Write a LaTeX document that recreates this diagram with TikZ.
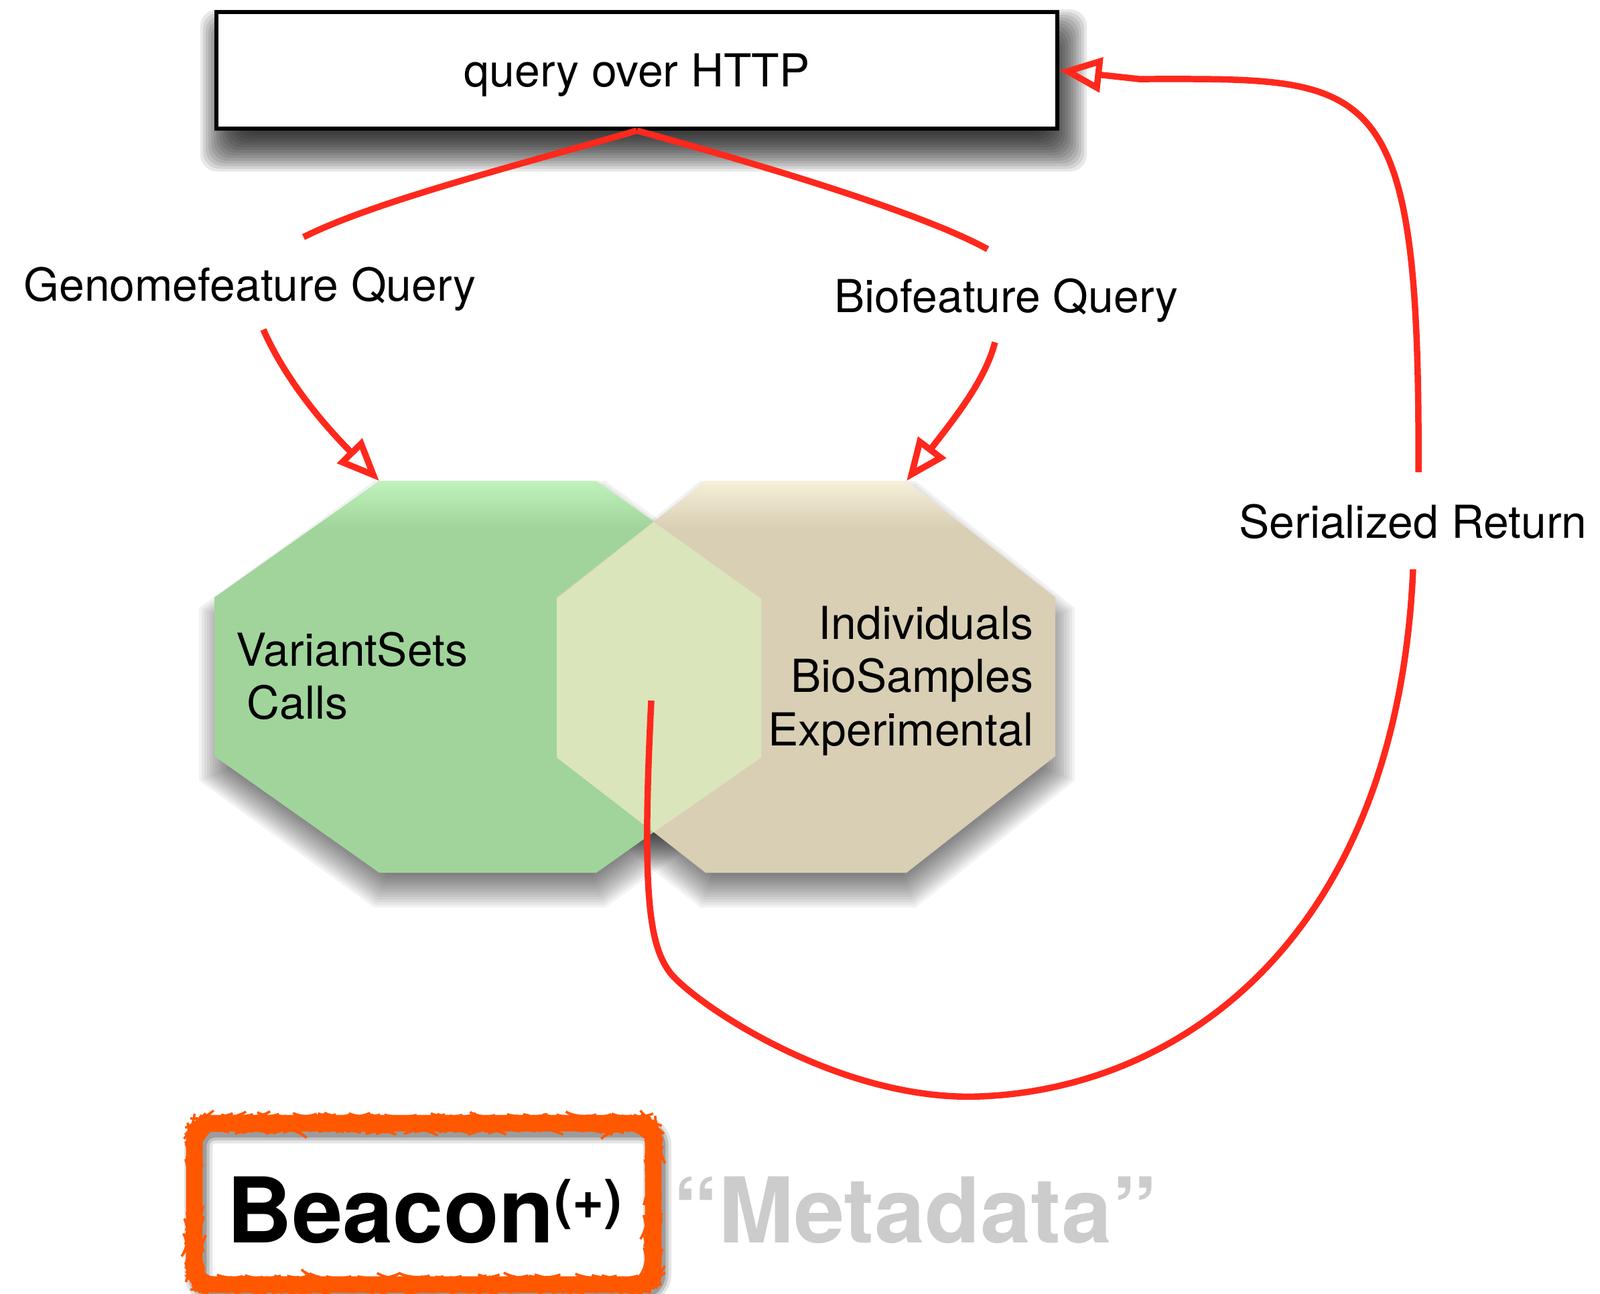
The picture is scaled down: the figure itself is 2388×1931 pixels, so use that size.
\documentclass[tikz,border=0pt]{standalone}
\usepackage{fontspec}
\setmainfont{TeX Gyre Heros}
\usetikzlibrary{arrows.meta,decorations.pathmorphing}
\definecolor{linered}{RGB}{255,40,28}
\definecolor{gmain}{RGB}{160,212,155}
\definecolor{glight}{RGB}{192,243,187}
\definecolor{bmain}{RGB}{216,207,181}
\definecolor{blight}{RGB}{246,240,217}
\definecolor{imain}{RGB}{219,229,188}
\definecolor{borange}{RGB}{255,88,0}
\definecolor{metagrey}{RGB}{204,204,204}
\pgfdeclareverticalshading{greengloss}{100bp}{color(0bp)=(gmain); color(69bp)=(gmain); color(75bp)=(glight); color(100bp)=(glight)}
\pgfdeclareverticalshading{beigegloss}{100bp}{color(0bp)=(bmain); color(69bp)=(bmain); color(75bp)=(blight); color(100bp)=(blight)}
\begin{document}
\begin{tikzpicture}[x=0.1mm,y=-0.1mm,
  lbl/.style={font=\fontsize{19.3}{23}\selectfont, inner sep=0pt},
  conn/.style={draw=linered, line width=2.7pt},
  arrowtip/.style={-{Triangle[open,length=18pt,width=14.5pt]}},
  topbox/.style={draw=black, line width=1.7pt, fill=white, minimum width=125.5mm, minimum height=17.4mm, inner sep=0pt, text depth=0pt, font=\fontsize{19.3}{23}\selectfont},
  bigtext/.style={anchor=base west, inner sep=0pt, font=\bfseries\fontsize{38.5}{40}\selectfont},
  roughedge/.style={borange, line width=1pt, rounded corners=2.5mm, decorate, decoration={random steps,segment length=1.5pt,amplitude=0.4pt}},
  greenoct/.style={insert path={(-162,-292.5) -- (162,-292.5) -- (408,-118.5) -- (408,118.5) -- (162,292.5) -- (-162,292.5) -- (-408,118.5) -- (-408,-118.5) -- cycle}},
  beigeoct/.style={insert path={(-150,-292.5) -- (150,-292.5) -- (372,-118.5) -- (372,118.5) -- (150,292.5) -- (-150,292.5) -- (-372,118.5) -- (-372,-118.5) -- cycle}}
]
\useasboundingbox (0,0) rectangle (2388,1931);

% soft shadow of the top box
\foreach \r in {-34,-30,...,26}
  \fill[black, opacity=0.09, rounded corners=2.5mm] ({333+\r},{48+\r}) rectangle ({1588-\r},{222-\r});
% top box
\node[topbox] (http) at (950.5,105) {query over HTTP};

% soft shadows of the octagons
\foreach \r in {-26,-22,...,34} {
  \fill[black, opacity=0.05, shift={(731,1036.5)}, xscale={(408-(\r))/408}, yscale={(292.5-(\r))/292.5}, greenoct];
  \fill[black, opacity=0.05, shift={(1206,1036.5)}, xscale={(372-(\r))/372}, yscale={(292.5-(\r))/292.5}, beigeoct];
}
% green octagon
\path[shading=greengloss, shift={(728,1010.5)}, greenoct];
% beige octagon
\path[shading=beigegloss, shift={(1203,1010.5)}, beigeoct];
% intersection
\fill[imain] (975.7,779.3) -- (831,894) -- (831,1131) -- (975.7,1242.7) -- (1136,1131) -- (1136,894) -- cycle;

% octagon vertices used by the arrows
\coordinate (g-tl) at (566,718);
\coordinate (b-tr) at (1353,718);

% octagon texts
\node[lbl, anchor=base west] (vs) at (352,994) {VariantSets};
\node[lbl, anchor=base west] (calls) at (368,1073) {Calls};
\node[lbl, anchor=base east] (ind) at (1543,954) {Individuals};
\node[lbl, anchor=base east] (bios) at (1543,1033) {BioSamples};
\node[lbl, anchor=base east] (exp) at (1543,1113) {Experimental};

% labels
\node[lbl, anchor=base] (gq) at (373,449) {Genomefeature Query};
\node[lbl, anchor=base] (bq) at (1502,466) {Biofeature Query};
\node[lbl, anchor=base] (sr) at (2109,803) {Serialized Return};

% connector break points
\coordinate (g1) at (453,354);
\coordinate (g2) at (393,492);
\coordinate (b1) at (1474,372);
\coordinate (b2) at (1485,511);
\coordinate (r0) at (972,1046);
\coordinate (r1) at (2109,850);
\coordinate (r2) at (2117,705);

% connectors
\draw[conn] (http.south) .. controls (780,245) and (560,300) .. (g1);
\draw[conn, arrowtip] (g2) .. controls (412,535) and (450,600) .. (g-tl);
\draw[conn] (http.south) .. controls (1150,250) and (1380,320) .. (b1);
\draw[conn, arrowtip] (b2) .. controls (1470,570) and (1420,630) .. (b-tr);
\draw[conn] (r0) .. controls (958,1330) and (968,1410) .. (1000,1452)
  .. controls (1034,1496) and (1250,1645) .. (1462,1637)
  .. controls (1762,1626) and (2085,1400) .. (r1);
\draw[conn, arrowtip] (r2) .. controls (2120,100) and (2050,118) .. (1700,118) -- (http.east);

% Beacon box
\foreach \w/\o in {12/0.10, 9.5/0.15, 7/0.2}
  \draw[black, opacity=\o, line width=\w pt, rounded corners=2.5mm] (296,1686) rectangle (981,1927);
\draw[borange, line width=7pt, rounded corners=2.5mm] (290,1677) rectangle (975,1918);
\draw[roughedge] (284,1671) rectangle (981,1924);
\draw[roughedge] (297,1684) rectangle (968,1911);
\node[bigtext] (beacon) at (338,1855) {Beacon\raisebox{10pt}{\fontsize{23}{25}\selectfont(+)}};
\node[bigtext, text=metagrey] (meta) at (1004,1855) {“Metadata”};
\end{tikzpicture}
\end{document}
